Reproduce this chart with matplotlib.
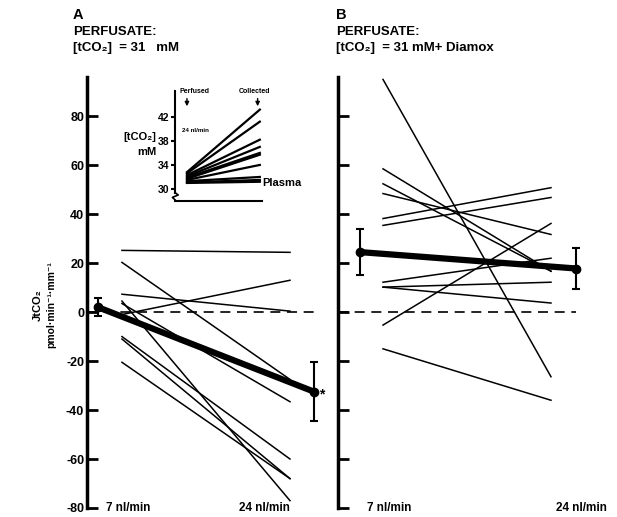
import matplotlib
matplotlib.use('Agg')
import matplotlib.pyplot as plt

plt.rcParams['font.family'] = ['Liberation Sans', 'DejaVu Sans']
plt.rcParams['font.weight'] = 'bold'
plt.rcParams['axes.unicode_minus'] = False

W, H = 617, 517

# flow rates (x positions 0 and 1)
flows = ['7 nl/min', '24 nl/min']

# panel A - individual tubules, JtCO2 at 7 and 24 nl/min
a_start = [25.2, 20.3, 7.3, -1.0, 3.5, 4.5, -10.0, -11.0, -20.5]
a_end = [24.4, -27.5, 0.4, 13.0, -36.6, -77.0, -60.0, -68.0, -68.0]
a_mean = [2.0, -32.5]
a_err = [3.8, 12.0]

# panel B - with Diamox
b_start = [95.0, 58.5, 52.4, 48.4, 38.2, 35.4, 12.2, 10.2, 10.2, -5.3, -15.0]
b_end = [-26.4, 16.7, 16.7, 31.7, 50.8, 46.8, 22.0, 12.2, 3.7, 36.2, -36.0]
b_mean = [24.5, 17.8]
b_err = [9.5, 8.2]

# inset - [tCO2] perfused vs collected (mM)
ins_start = [32.8, 32.6, 32.3, 32.1, 31.9, 31.7, 31.5, 31.3, 31.1, 31.0]
ins_end = [43.2, 41.2, 38.2, 37.0, 36.0, 35.7, 34.0, 32.0, 31.5, 31.2]
ins_ticks = [30, 34, 38, 42]

yticks = [-80, -60, -40, -20, 0, 20, 40, 60, 80]


def px_axes(fig, left, top, right, bottom):
    # place an axes using pixel coordinates of the reference image
    return fig.add_axes([left / W, 1 - bottom / H, (right - left) / W, (bottom - top) / H])


def style_main(ax, labels):
    for s in ['top', 'right', 'bottom']:
        ax.spines[s].set_visible(False)
    ax.spines['left'].set_linewidth(2.5)
    ax.spines['left'].set_bounds(-80, 96)
    ax.set_ylim(-80, 96)
    ax.set_yticks(yticks)
    ax.tick_params(axis='y', direction='in', length=8, width=2, labelsize=9, pad=2)
    if not labels:
        ax.set_yticklabels([])
    ax.set_xticks([])
    ax.patch.set_alpha(0)


fig = plt.figure(figsize=(W / 100, H / 100), dpi=100)

# ---- panel A
axA = px_axes(fig, 87, 77, 332, 508)
axA.set_xlim(-0.208, 1.25)
style_main(axA, True)
axA.plot([-0.208, 1.18], [0, 0], color='black', lw=1.2, dashes=(6, 4))
for s, e in zip(a_start, a_end):
    axA.plot([0, 1], [s, e], color='black', lw=1.1)
axA.plot([-0.143, 1.143], a_mean, color='black', lw=4.5, solid_capstyle='round')
axA.errorbar([-0.143, 1.143], a_mean, yerr=a_err, fmt='o', color='black',
             ms=6, elinewidth=1.5, capsize=3, capthick=1.5)
axA.text(1.19, -33.5, '*', fontsize=10, ha='center', va='center')
axA.text(0.04, -80, flows[0], fontsize=8.5, ha='center', va='center')
axA.text(0.85, -80, flows[1], fontsize=8.5, ha='center', va='center')

# ---- panel B
axB = px_axes(fig, 338, 77, 617, 508)
axB.set_xlim(-0.268, 1.393)
style_main(axB, False)
axB.plot([-0.268, 1.15], [0, 0], color='black', lw=1.2, dashes=(6, 4))
for s, e in zip(b_start, b_end):
    axB.plot([0, 1], [s, e], color='black', lw=1.1)
axB.plot([-0.137, 1.15], b_mean, color='black', lw=4.5, solid_capstyle='round')
axB.errorbar([-0.137, 1.15], b_mean, yerr=b_err, fmt='o', color='black',
             ms=6, elinewidth=1.5, capsize=3, capthick=1.5)
axB.text(0.036, -80, flows[0], fontsize=8.5, ha='center', va='center')
axB.text(1.18, -80, flows[1], fontsize=8.5, ha='center', va='center', clip_on=False)

# ---- inset
axI = px_axes(fig, 175, 91, 262, 201)
axI.set_xlim(-0.164, 1.03)
axI.set_ylim(28, 46.3)
for s in ['top', 'right']:
    axI.spines[s].set_visible(False)
axI.spines['left'].set_bounds(29.4, 46.3)
axI.spines['left'].set_linewidth(1.5)
axI.spines['bottom'].set_linewidth(1.5)
axI.set_xticks([])
axI.set_yticks(ins_ticks)
axI.tick_params(axis='y', direction='out', length=3, width=1.5, labelsize=7.5, pad=1)
axI.plot([-0.164, -0.12, -0.2, -0.164], [29.4, 29.0, 28.6, 28.2], color='black',
         lw=1.2, clip_on=False)
for s, e in zip(ins_start, ins_end):
    axI.plot([0, 1], [s, e], color='black', lw=1.6)
axI.text(0.11, 46.2, 'Perfused', fontsize=5, ha='center', va='center')
axI.text(0.93, 46.2, 'Collected', fontsize=5, ha='center', va='center')
for xa in [0, 0.97]:
    axI.annotate('', xy=(xa, 43.3), xytext=(xa, 45.5),
                 arrowprops=dict(arrowstyle='-|>', lw=1, color='black', mutation_scale=6))
axI.text(-0.07, 39.7, '24 nl/min', fontsize=4.5, ha='left', va='center')
axI.text(1.03, 31.0, 'Plasma', fontsize=8, ha='left', va='center', clip_on=False)
fig.text(140 / W, 1 - 137 / H, '[tCO₂]', fontsize=8, ha='center', va='center')
fig.text(147 / W, 1 - 152 / H, 'mM', fontsize=8, ha='center', va='center')

# ---- titles and y label
fig.text(73 / W, 1 - 15 / H, 'A', fontsize=10.5, ha='left', va='center')
fig.text(73 / W, 1 - 32 / H, 'PERFUSATE:', fontsize=9.5, ha='left', va='center')
fig.text(73 / W, 1 - 48 / H, '[tCO₂]  = 31   mM', fontsize=9.5, ha='left', va='center')
fig.text(336 / W, 1 - 15 / H, 'B', fontsize=10.5, ha='left', va='center')
fig.text(336 / W, 1 - 32 / H, 'PERFUSATE:', fontsize=9.5, ha='left', va='center')
fig.text(336 / W, 1 - 48 / H, '[tCO₂]  = 31 mM+ Diamox', fontsize=9.5, ha='left', va='center')

fig.text(38 / W, 1 - 305 / H, 'JtCO₂', fontsize=8, rotation=90, ha='center', va='center')
fig.text(51 / W, 1 - 305 / H, 'pmol·min⁻¹·mm⁻¹', fontsize=7.5, rotation=90,
         ha='center', va='center')

fig.savefig('out.png', dpi=100)
